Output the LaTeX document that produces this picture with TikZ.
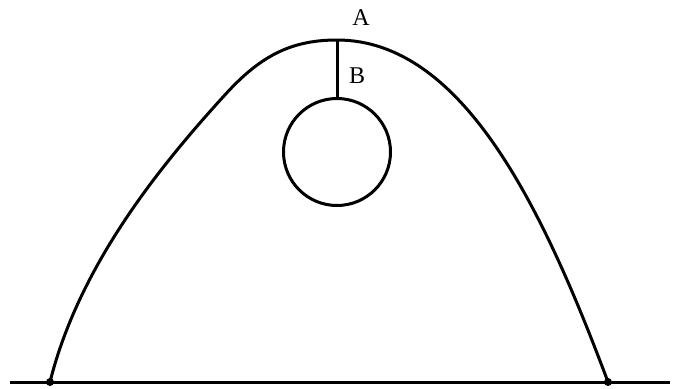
\documentclass[tikz,border=0pt]{standalone}
\usepackage{fontspec}
\setmainfont{Liberation Serif}
\begin{document}
\begin{tikzpicture}[x=1pt,y=-1pt,
  stroke/.style={line width=3pt, line join=round},
  lbl/.style={font=\fontsize{24}{26}\selectfont, inner sep=0pt},
  dotpt/.style={circle, fill=black, inner sep=0pt, minimum size=8pt}]
\useasboundingbox (0,0) rectangle (674,388);
% ground
\coordinate (gl) at (10,382);
\coordinate (gr) at (670,382);
\draw[stroke] (gl) -- (gr);
% endpoints
\node[dotpt] (pl) at (50,382) {};
\node[dotpt] (pr) at (608,382) {};
% arch
\coordinate (apex) at (337,40);
\coordinate (sh) at (223,97);
\draw[stroke] (pl.center) .. controls (78.8,266.6) and (158.2,168.3) .. (sh)
  .. controls (258,58) and (288.5,40) .. (apex)
  .. controls (463.7,40) and (544,211) .. (pr.center);
% circle
\node[circle, draw, line width=3pt, minimum size=107pt, inner sep=0pt] (c) at (337,152) {};
\draw[stroke] (apex) -- (c.north);
% labels
\node[lbl] (A) at (361,18) {A};
\node[lbl] (B) at (357,76) {B};
\end{tikzpicture}
\end{document}
